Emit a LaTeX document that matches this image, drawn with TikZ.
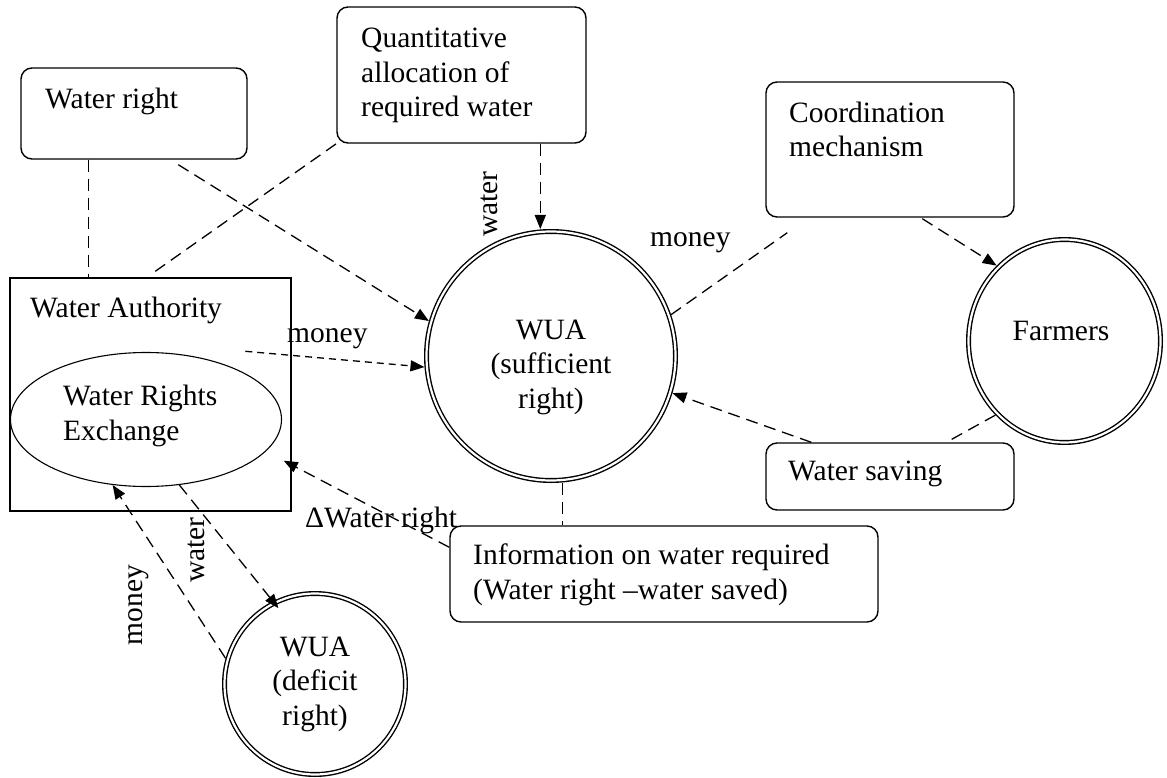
\documentclass[tikz,border=0pt]{standalone}
\usepackage{fontspec}
\setmainfont{Liberation Serif}
\usetikzlibrary{arrows.meta,calc,shapes.geometric}
\begin{document}
\begin{tikzpicture}[x=1pt,y=-1pt,
  every node/.style={font=\fontsize{29.5}{34.5}\selectfont, inner sep=0pt},
  rbox/.style={draw, line width=1.4pt, rounded corners=11pt},
  sbox/.style={draw, line width=1.4pt},
  dcirc/.style={circle, draw, line width=1.4pt, double, double distance=2.2pt, outer sep=2.5pt},
  txt/.style={anchor=base west, align=left},
  ctxt/.style={anchor=base, align=center},
  dln/.style={dash pattern=on 12pt off 7pt, line width=1.3pt},
  sdln/.style={dash pattern=on 7pt off 5pt, line width=1.3pt},
  arr/.style={-{Triangle[length=14pt,width=11pt]}},
]
\useasboundingbox (0,0) rectangle (1167,778);

% boxes and shapes
\node[rbox, minimum width=226pt, minimum height=91pt] (wr) at (134,113.5) {};
\node[rbox, minimum width=249pt, minimum height=136pt] (qa) at (461.5,75) {};
\node[rbox, minimum width=248pt, minimum height=135pt] (co) at (890,149.5) {};
\node[sbox, minimum width=281pt, minimum height=233pt] (wa) at (150.5,394.5) {};
\node[ellipse, draw, line width=1.1pt, minimum width=271pt, minimum height=134pt] (ex) at (146,419.5) {};
\node[dcirc, minimum size=249pt] (wua) at (551,356) {};
\node[dcirc, ellipse, minimum width=192pt, minimum height=203pt] (fa) at (1064.5,341) {};
\node[rbox, minimum width=248pt, minimum height=67pt] (ws) at (890,476.5) {};
\node[rbox, minimum width=428pt, minimum height=96pt] (in) at (664,574) {};
\node[dcirc, minimum size=181pt] (wd) at (315,684) {};

% texts (multi-line nodes: base = baseline of last line)
\node[txt] (wr-t) at (45,109) {Water right};
\node[txt] (qa-t) at (361,117) {Quantitative\\allocation of\\required water};
\node[txt] (co-t) at (789,157) {Coordination\\mechanism};
\node[txt] (wa-t) at (30,317) {Water Authority};
\node[txt] (ex-t) at (63,440) {Water Rights\\Exchange};
\node[ctxt] (wua-t) at (551,408) {WUA\\(sufficient\\right)};
\node[ctxt] (fa-t) at (1061,340) {Farmers};
\node[txt] (ws-t) at (788,480) {Water saving};
\node[txt] (in-t) at (473,599) {Information on water required\\(Water right –water saved)};
\node[ctxt] (wd-t) at (315,725) {WUA\\(deficit\\right)};

% connector labels
\node[anchor=base west] (l-m1) at (287,342) {money};
\node[rotate=90] (l-w1) at (489,204) {water};
\node[anchor=base west] (l-m2) at (650,247) {money};
\node[anchor=base west] (l-dw) at (305,527) {ΔWater right};
\node[rotate=90] (l-w2) at (196,550) {water};
\node[rotate=90] (l-m3) at (139,605) {money};

% helper coordinates
\coordinate (qs) at ($(qa.south west)+(204,0)$);
\coordinate (is) at ($(in.north west)+(113,0)$);

% connectors
\draw[dln] ($(wr.south west)+(68,0)$) -- ($(wa.north west)+(79,0)$);
\draw[dln, arr] ($(wr.south west)+(158,5)$) -- (wua.164.7);
\draw[dln] ($(wa.north west)+(146,-6)$) -- (qa.south west);
\draw[dln, arr] (qs) -- (qs |- wua.north);
\draw[sdln, arr] ($(wa.north west)+(236,74)$) -- (wua.185);
\draw[dln] (wua.19.5) -- ($(co.south west)+(22,15)$);
\draw[dln, arr] ($(co.south west)+(157,1)$) -- (fa.132.5);
\draw[dln, arr] ($(ws.north west)+(46,0)$) -- (wua.343.6);
\draw[dln] (fa.227.5) -- ($(ws.north west)+(181,0)$);
\draw[dln] (is |- wua.south) -- (is);
\draw[dln, arr] ($(in.north west)+(0,22)$) -- ($(wa.south east)+(-8,-51)$);
\draw[dln, arr, shorten >=-9pt] (ex.297.4) -- (wd.117);
\draw[dln, arr] (wd.164) -- (ex.243.6);
\end{tikzpicture}
\end{document}
